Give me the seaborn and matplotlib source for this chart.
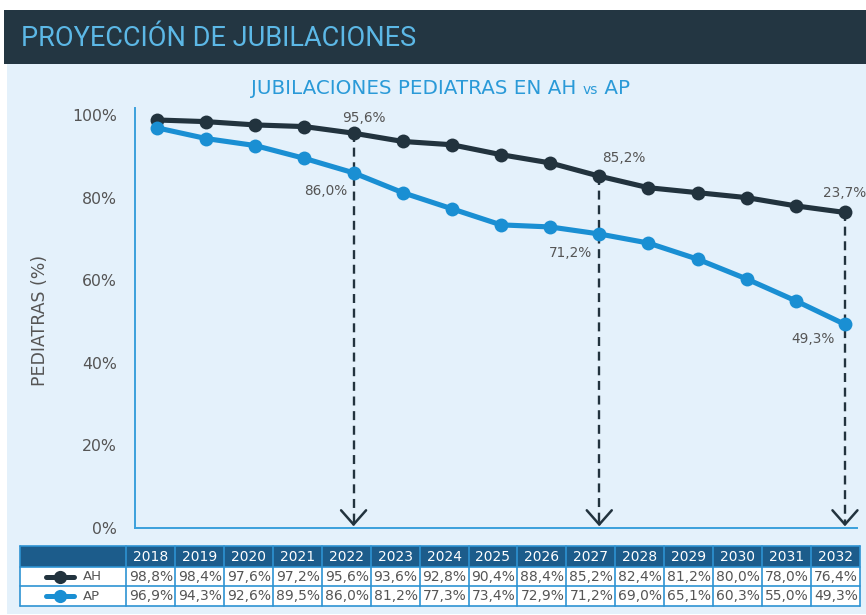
import matplotlib
matplotlib.use("Agg")
import matplotlib.pyplot as plt
from matplotlib.patches import Rectangle
import seaborn as sns
import pandas as pd

# ---- data ----
years = [2018, 2019, 2020, 2021, 2022, 2023, 2024, 2025, 2026, 2027, 2028, 2029, 2030, 2031, 2032]
ah_values = [98.8, 98.4, 97.6, 97.2, 95.6, 93.6, 92.8, 90.4, 88.4, 85.2, 82.4, 81.2, 80.0, 78.0, 76.4]
ap_values = [96.9, 94.3, 92.6, 89.5, 86.0, 81.2, 77.3, 73.4, 72.9, 71.2, 69.0, 65.1, 60.3, 55.0, 49.3]
series_names = ["AH", "AP"]
y_ticks = [0, 20, 40, 60, 80, 100]
highlight_years = [2022, 2027, 2032]
title_text = "PROYECCIÓN DE JUBILACIONES"
subtitle_main = "JUBILACIONES PEDIATRAS EN AH "
subtitle_vs = "vs"
subtitle_end = " AP"
y_label = "PEDIATRAS (%)"
end_label_ah = "23,7%"

# ---- style ----
DARK = "#22333E"
BLUE = "#1A8FD3"
HEADER_BG = "#233642"
PANEL_BG = "#E4F1FB"
TITLE_COL = "#5CB8E6"
SUB_COL = "#2A9AD8"
SPINE_COL = "#3BA0DC"
GRAY = "#555555"
TABLE_HEAD = "#1C5C8B"
TABLE_LINE = "#2E93D3"

sns.set_theme(style="white")
plt.rcParams["font.family"] = ["DejaVu Sans"]


def pct(v):
    return f"{v:.1f}".replace(".", ",") + "%"


W, H = 866, 615
fig = plt.figure(figsize=(W / 100, H / 100), dpi=100)
fig.patch.set_facecolor("white")

# background layer in pixel coordinates
bg = fig.add_axes([0, 0, 1, 1], zorder=0)
bg.set_xlim(0, W)
bg.set_ylim(H, 0)
bg.axis("off")
bg.add_patch(Rectangle((7, 64), W - 7, 550, color=PANEL_BG, lw=0))
bg.add_patch(Rectangle((4, 10), W - 4, 54, color=HEADER_BG, lw=0))

bg.text(21, 38, title_text, fontsize=19.5, color=TITLE_COL, va="center",
        ha="left", family=["Roboto", "DejaVu Sans"])

t1 = bg.text(251, 93.5, subtitle_main, fontsize=14.3, color=SUB_COL,
             ha="left", va="baseline")
t2 = bg.annotate(subtitle_vs, xy=(1, 0), xycoords=t1, fontsize=10,
                 color=SUB_COL, ha="left", va="bottom")
bg.annotate(subtitle_end, xy=(1, 0), xycoords=t2, fontsize=14.3,
            color=SUB_COL, ha="left", va="bottom")

bg.text(40, 320, y_label, rotation=90, fontsize=12.5, color=GRAY,
        ha="center", va="center")

# ---- chart ----
ax = fig.add_axes([135 / W, 1 - 528 / H, (857 - 135) / W, (528 - 108) / H], zorder=2)
ax.set_facecolor("none")

pos = list(range(len(years)))
df = pd.DataFrame({
    "pos": pos * 2,
    "valor": ah_values + ap_values,
    "serie": ["AH"] * len(years) + ["AP"] * len(years),
})

for yr in highlight_years:
    i = years.index(yr)
    ax.plot([i, i], [ah_values[i], 1.2], color=DARK, lw=1.7,
            ls=(0, (3.8, 2.4)), zorder=1)
    ax.annotate("", xy=(i, 0.4), xytext=(i, 1.4),
                arrowprops=dict(arrowstyle="->,head_length=0.85,head_width=0.75",
                                color=DARK, lw=1.8, shrinkA=0, shrinkB=0),
                zorder=1)

sns.lineplot(data=df, x="pos", y="valor", hue="serie", hue_order=series_names,
             palette={"AH": DARK, "AP": BLUE}, marker="o", markersize=10,
             markeredgewidth=0, linewidth=3.7, legend=False, ax=ax, zorder=3)

ax.set_xlim(-0.448, 14.245)
ax.set_ylim(0, 101.7)
ax.set_yticks(y_ticks)
ax.set_yticklabels([f"{v}%" for v in y_ticks], fontsize=11.3, color=GRAY)
ax.set_xticks([])
ax.set_xlabel("")
ax.set_ylabel("")
ax.tick_params(axis="y", length=0, pad=13)
for side in ["top", "right"]:
    ax.spines[side].set_visible(False)
for side in ["left", "bottom"]:
    ax.spines[side].set_color(SPINE_COL)
    ax.spines[side].set_linewidth(1.4)

# value labels (offsets in pixels)
i22, i27, i32 = (years.index(y) for y in highlight_years)
labels = [
    (i22, ah_values[i22], pct(ah_values[i22]), (-11, 15), "left"),
    (i22, ap_values[i22], pct(ap_values[i22]), (-6, -18), "right"),
    (i27, ah_values[i27], pct(ah_values[i27]), (3, 18), "left"),
    (i27, ap_values[i27], pct(ap_values[i27]), (-7, -19), "right"),
    (i32, ah_values[i32], end_label_ah, (0, 19), "center"),
    (i32, ap_values[i32], pct(ap_values[i32]), (-10, -15), "right"),
]
for x, y, txt, off, ha in labels:
    ax.annotate(txt, xy=(x, y), xytext=off, textcoords="offset pixels",
                ha=ha, va="center", fontsize=9.8, color=GRAY, zorder=4)

# ---- data table ----
tx0, tx1 = 20, 860
col0 = 126
cw = (tx1 - col0) / len(years)
rows = [546, 567, 586, 606]

bg.add_patch(Rectangle((tx0, rows[0]), tx1 - tx0, rows[1] - rows[0],
                       color=TABLE_HEAD, lw=0))
bg.add_patch(Rectangle((tx0, rows[1]), tx1 - tx0, rows[3] - rows[1],
                       color="white", lw=0))
for r in rows:
    bg.plot([tx0, tx1], [r, r], color=TABLE_LINE, lw=1.2)
for c in [tx0, col0] + [col0 + cw * (k + 1) for k in range(len(years))]:
    bg.plot([c, c], [rows[0], rows[3]], color=TABLE_LINE, lw=1.2)

for k, yr in enumerate(years):
    cx = col0 + cw * (k + 0.5)
    bg.text(cx, (rows[0] + rows[1]) / 2 + 0.5, str(yr), color="white",
            fontsize=10, ha="center", va="center")
    right = col0 + cw * (k + 1) - 2
    bg.text(right, (rows[1] + rows[2]) / 2 + 0.5, pct(ah_values[k]),
            color=GRAY, fontsize=10, ha="right", va="center")
    bg.text(right, (rows[2] + rows[3]) / 2 + 0.5, pct(ap_values[k]),
            color=GRAY, fontsize=10, ha="right", va="center")

for name, color, r in [("AH", DARK, 1), ("AP", BLUE, 2)]:
    yc = (rows[r] + rows[r + 1]) / 2
    bg.plot([46, 74], [yc, yc], color=color, lw=3.6, solid_capstyle="round")
    bg.plot([60], [yc], "o", color=color, ms=9.5, mew=0)
    bg.text(83, yc + 0.5, name, color=GRAY, fontsize=9.5, ha="left", va="center")

fig.savefig("out.png", dpi=100, facecolor=fig.get_facecolor())
